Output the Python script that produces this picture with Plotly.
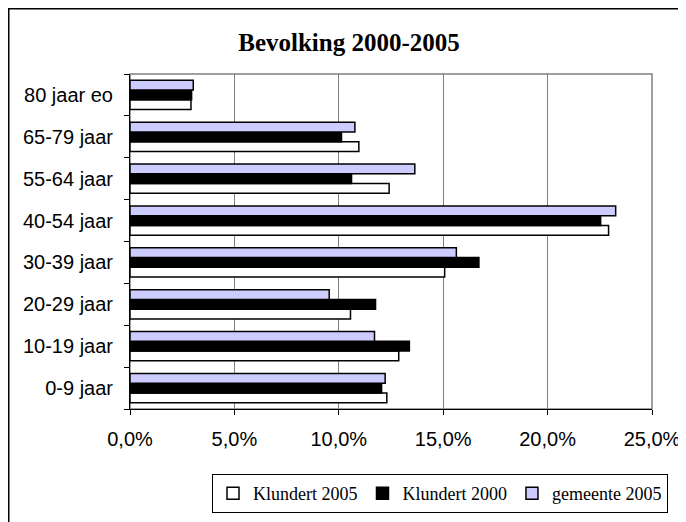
import plotly.graph_objects as go

categories = ["0-9 jaar", "10-19 jaar", "20-29 jaar", "30-39 jaar",
              "40-54 jaar", "55-64 jaar", "65-79 jaar", "80 jaar eo"]
klundert_2005 = [0.123, 0.1287, 0.1056, 0.1507, 0.2292, 0.1241, 0.1096, 0.0292]
klundert_2000 = [0.1205, 0.1338, 0.1176, 0.1671, 0.2254, 0.1061, 0.1013, 0.0295]
gemeente_2005 = [0.1222, 0.1171, 0.0954, 0.1563, 0.2326, 0.1364, 0.1077, 0.0303]
x_ticks = [0, 0.05, 0.10, 0.15, 0.20, 0.25]

# page body has an 8px margin; work in screen pixels and offset
OFF = 8
W, H = 686 - OFF, 522 - OFF
# plot area in screen pixels: x 130..652, y 74..409
L = 130 - OFF
R = 686 - 652
T = 74 - OFF
B = 522 - 409
pw, ph = W - L - R, H - T - B

def px_x(p):  # screen px -> paper
    return (p - OFF - L) / pw

def px_y(p):
    return (H - B - (p - OFF)) / ph

fig = go.Figure()
series = [("Klundert 2005", klundert_2005, "#FFFFFF"),
          ("Klundert 2000", klundert_2000, "#000000"),
          ("gemeente 2005", gemeente_2005, "#CCCCFF")]
for name, vals, col in series:
    fig.add_trace(go.Bar(
        y=categories, x=vals, name=name, orientation="h",
        marker=dict(color=col, line=dict(color="#000000", width=1.5)),
        hoverinfo="x+y+name",
    ))

fig.update_layout(
    width=W, height=H,
    margin=dict(l=L, r=R, t=T, b=B, autoexpand=False),
    paper_bgcolor="white", plot_bgcolor="white",
    barmode="group", bargap=0.3, bargroupgap=0,
    separators=",.",
    title=dict(text="<b>Bevolking 2000-2005</b>", x=(349 - OFF) / W, xanchor="center",
               y=1 - (42 - OFF) / H, yanchor="middle",
               font=dict(family="Liberation Serif", size=25, color="#000")),
    xaxis=dict(range=[0, 0.25], tickvals=x_ticks, tickformat=".1%",
               showgrid=True, gridcolor="#808080", gridwidth=1,
               showline=True, linecolor="#000", linewidth=1,
               ticks="outside", ticklen=5, tickcolor="#000",
               ticklabelstandoff=7, automargin=False,
               tickfont=dict(family="Liberation Sans", size=20, color="#000"),
               zeroline=False, fixedrange=True),
    yaxis=dict(type="category", categoryorder="array", categoryarray=categories,
               tickson="boundaries", ticks="outside", ticklen=5, tickcolor="#000",
               showline=True, linecolor="#000", linewidth=1, showgrid=False,
               ticklabelstandoff=12, automargin=False,
               tickfont=dict(family="Liberation Sans", size=20, color="#000"),
               fixedrange=True),
    legend=dict(orientation="h", traceorder="normal",
                xref="container", yref="container",
                x=(440 - OFF) / W, xanchor="center", y=1 - (474 - OFF) / H, yanchor="top",
                bordercolor="#000", borderwidth=1, bgcolor="white",
                font=dict(family="Liberation Serif", size=18, color="#000"),
                itemwidth=30, tracegroupgap=0),
    showlegend=True,
)

fig.add_shape(type="rect", xref="paper", yref="paper",
              x0=0, x1=1, y0=0, y1=1, line=dict(color="#808080", width=1.5),
              layer="below")
fig.add_shape(type="rect", xref="paper", yref="paper",
              x0=px_x(8.75), x1=px_x(720), y0=px_y(8.75), y1=px_y(560),
              line=dict(color="#000", width=1.5), fillcolor="rgba(0,0,0,0)",
              layer="below")

fig.write_html("out.html")
